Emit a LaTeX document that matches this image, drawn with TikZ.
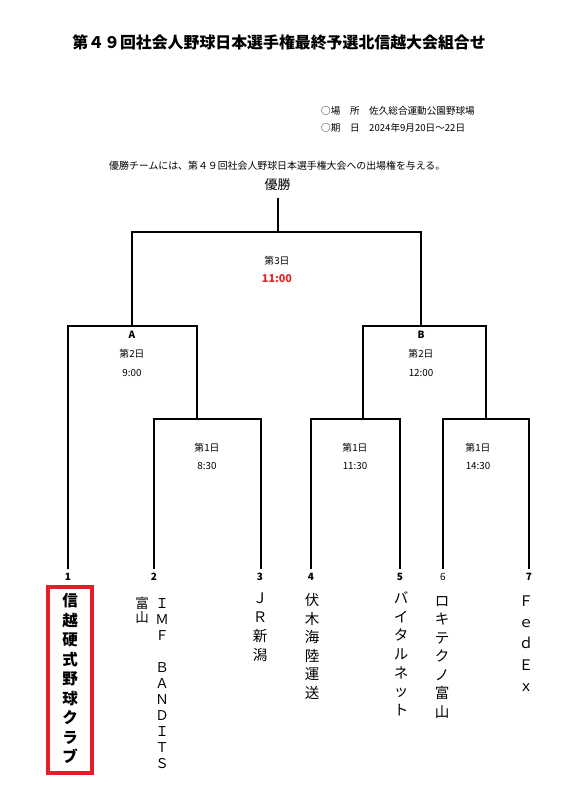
\documentclass[tikz,border=0pt]{standalone}
\usepackage{fontspec}
\setmainfont{Noto Sans CJK JP}
\definecolor{boxred}{RGB}{228,30,40}
\definecolor{timered}{RGB}{230,35,35}
\newcommand\vertcol[6]{\foreach \c [count=\i from 0] in {#6} {\node[#5] (#1-\i) at (#2,{#3+\i*#4}) {\c};}}
\begin{document}
\begin{tikzpicture}[x=1pt,y=-1pt,line join=miter,
  bracket/.style={line width=2.2pt},
  lbl/.style={font=\fontsize{9.8}{11}\selectfont, inner sep=0pt},
  num/.style={font=\fontsize{10}{12}\selectfont\bfseries, inner sep=0pt},
  team/.style={font=\fontsize{14.5}{16}\selectfont, inner sep=0pt, text height=12.7pt, text depth=1.8pt},
  teamb/.style={font=\fontsize{15.5}{17}\selectfont\bfseries, inner sep=0pt, text height=13.6pt, text depth=1.9pt},
  teams/.style={font=\fontsize{13.5}{15}\selectfont, inner sep=0pt, text height=11.9pt, text depth=1.6pt},
  info/.style={font=\fontsize{9.6}{11}\selectfont, inner sep=0pt, anchor=west}]
\useasboundingbox[fill=white] (0,0) rectangle (587,795);
% title and info
\node[font=\fontsize{15.9}{18}\selectfont\bfseries, inner sep=0pt] (title) at (279,42) {第４９回社会人野球日本選手権最終予選北信越大会組合せ};
\node[info] (place) at (321,111) {○場　所　佐久総合運動公園野球場};
\node[info] (date) at (321,128) {○期　日　2024年9月20日～22日};
\node[font=\fontsize{9.9}{11}\selectfont, inner sep=0pt, anchor=west] (note) at (109,166) {優勝チームには、第４９回社会人野球日本選手権大会への出場権を与える。};
\node[font=\fontsize{13}{15}\selectfont, inner sep=0pt] (champ) at (277.5,185) {優勝};
% bracket coordinates
\coordinate (l1) at (68,569);
\coordinate (l2) at (154,569);
\coordinate (l3) at (261,569);
\coordinate (l4) at (311,569);
\coordinate (l5) at (400,569);
\coordinate (l6) at (443,569);
\coordinate (l7) at (529,569);
\coordinate (m1) at (197,419);
\coordinate (m2) at (363,419);
\coordinate (m3) at (486,419);
\coordinate (sA) at (132,326);
\coordinate (sB) at (421,326);
\coordinate (f) at (278,232);
\coordinate (top) at (278,198);
\draw[bracket] (l2) |- (m1) -| (l3);
\draw[bracket] (l4) |- (m2) -| (l5);
\draw[bracket] (l6) |- (m3) -| (l7);
\draw[bracket] (l1) |- (sA) -| (m1);
\draw[bracket] (m2) |- (sB) -| (m3);
\draw[bracket] (sA) |- (f) -| (sB);
\draw[bracket] (f) -- (top);
% match labels
\node[lbl] (d3) at (277,261) {第3日};
\node[font=\fontsize{10.8}{12}\selectfont\bfseries, text=timered, inner sep=0pt] (t3) at (277,279) {11:00};
\node[num] (A) at (132,335) {A};
\node[lbl] (dA) at (132,354) {第2日};
\node[lbl] (tA) at (132,373) {9:00};
\node[num] (B) at (421,335) {B};
\node[lbl] (dB) at (421,354) {第2日};
\node[lbl] (tB) at (421,373) {12:00};
\node[lbl] (d1a) at (207,448) {第1日};
\node[lbl] (t1a) at (207,466) {8:30};
\node[lbl] (d1b) at (355,448) {第1日};
\node[lbl] (t1b) at (355,466) {11:30};
\node[lbl] (d1c) at (478,448) {第1日};
\node[lbl] (t1c) at (478,466) {14:30};
% numbers
\node[num] (n1) at (68,577) {1};
\node[num] (n2) at (154,577) {2};
\node[num] (n3) at (260,577) {3};
\node[num] (n4) at (311,577) {4};
\node[num] (n5) at (400,577) {5};
\node[num, font=\fontsize{10}{12}\selectfont] (n6) at (443,577) {6};
\node[num] (n7) at (529,577) {7};
% teams
\node[draw=boxred, line width=3.5pt, minimum width=44pt, minimum height=186pt, inner sep=0pt] (box1) at (70,680) {};
\vertcol{tm1}{70}{601}{19.5}{teamb}{信,越,硬,式,野,球,ク,ラ,ブ}
\vertcol{tm2a}{162}{603}{16}{teams}{Ｉ,Ｍ,Ｆ,　,Ｂ,Ａ,Ｎ,Ｄ,Ｉ,Ｔ,Ｓ}
\vertcol{tm2b}{142}{603}{14.5}{teams}{富,山}
\vertcol{tm3}{260}{598}{19}{team}{Ｊ,Ｒ,新,潟}
\vertcol{tm4}{312}{600}{18.6}{team}{伏,木,海,陸,運,送}
\vertcol{tm5}{401}{598}{18.7}{team}{バ,イ,タ,ル,ネ,ッ,ト}
\vertcol{tm6}{442}{601}{18.5}{team}{ロ,キ,テ,ク,ノ,富,山}
\vertcol{tm7}{526}{601}{21.2}{team}{Ｆ,ｅ,ｄ,Ｅ,ｘ}
\end{tikzpicture}
\end{document}
